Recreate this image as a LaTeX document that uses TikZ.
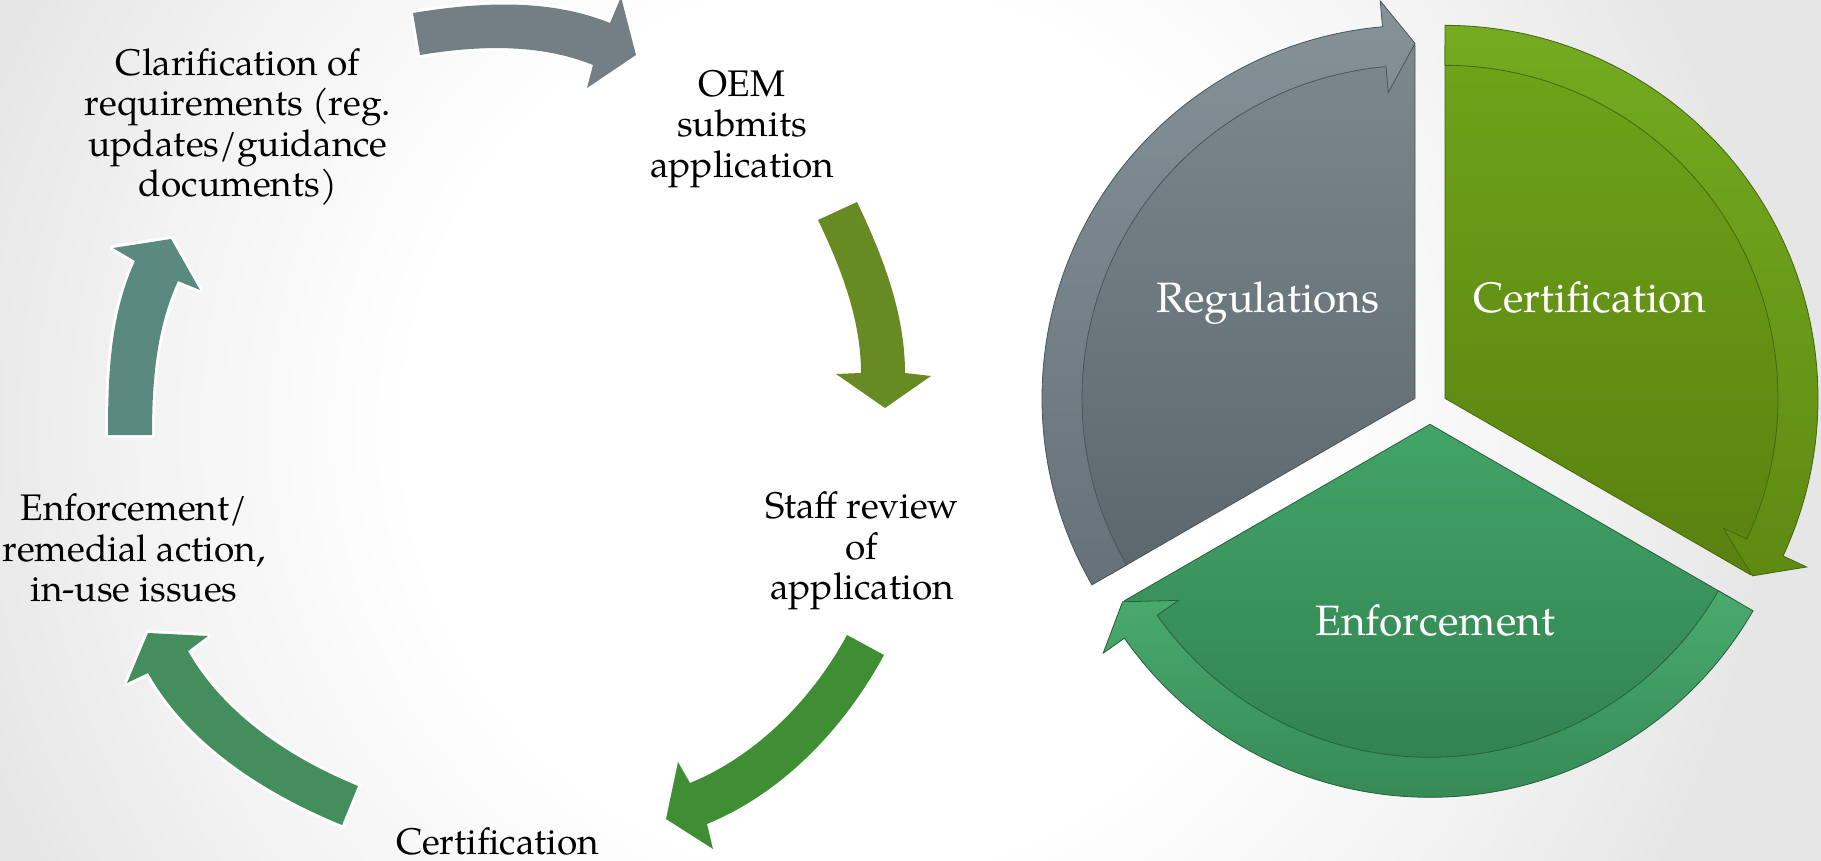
\documentclass[tikz,border=0pt]{standalone}
\usepackage{fontspec}
\setmainfont{TeX Gyre Pagella}

% page background
\definecolor{bgmid}{HTML}{F3F3F3}
\definecolor{bgedge}{HTML}{E6E6E6}
% left cycle arrows
\definecolor{arrA}{HTML}{737F84}
\definecolor{arrB}{HTML}{678B22}
\definecolor{arrC}{HTML}{3F8E33}
\definecolor{arrD}{HTML}{448E5D}
\definecolor{arrE}{HTML}{5A8A7F}
% segmented cycle
\definecolor{regTop}{HTML}{7B888E}
\definecolor{regBot}{HTML}{5B676D}
\definecolor{regBandTop}{HTML}{859298}
\definecolor{regBandBot}{HTML}{65727A}
\definecolor{regLine}{HTML}{4A5459}
\definecolor{cerTop}{HTML}{6EA41A}
\definecolor{cerBot}{HTML}{59810F}
\definecolor{cerBandTop}{HTML}{74AB20}
\definecolor{cerBandBot}{HTML}{5E8A12}
\definecolor{cerLine}{HTML}{46660B}
\definecolor{enfTop}{HTML}{42A467}
\definecolor{enfBot}{HTML}{2E7C4C}
\definecolor{enfBandTop}{HTML}{4AAB6D}
\definecolor{enfBandBot}{HTML}{368A56}
\definecolor{enfLine}{HTML}{255F3B}

\pgfdeclareradialshading{pagebg}{\pgfpoint{0bp}{0bp}}{color(0bp)=(white); color(10bp)=(white); color(16bp)=(bgmid); color(21bp)=(bgedge); color(50bp)=(bgedge)}

\begin{document}
\begin{tikzpicture}[x=1pt,y=-1pt,
  cyctext/.style={align=center, inner sep=0pt, text=black,
    font=\fontsize{37}{40.5}\selectfont},
  segtext/.style={anchor=base, inner sep=0pt, text=white,
    font=\fontsize{42.5}{48}\selectfont},
  cycarrow/.style={preaction={draw=white, line width=6pt, line join=round}},
  lo/.style={looseness=0.86},
  regbody/.style={top color=regTop, bottom color=regBot, draw=regLine, line width=0.8pt},
  regband/.style={top color=regBandTop, bottom color=regBandBot, draw=regLine, line width=0.8pt},
  cerbody/.style={top color=cerTop, bottom color=cerBot, draw=cerLine, line width=0.8pt},
  cerband/.style={top color=cerBandTop, bottom color=cerBandBot, draw=cerLine, line width=0.8pt},
  enfbody/.style={top color=enfTop, bottom color=enfBot, draw=enfLine, line width=0.8pt},
  enfband/.style={top color=enfBandTop, bottom color=enfBandBot, draw=enfLine, line width=0.8pt},
]
\useasboundingbox (0,0) rectangle (1821,861);
\clip (0,0) rectangle (1821,861);
\shade[shading=pagebg] (850,430) circle[radius=1100];

% ---------- text cycle (left) ----------
\node[cyctext] (clar) at (238,127) {Clarification of\\requirements (reg.\\updates/guidance\\documents)};
\node[cyctext] (oem) at (742,129) {OEM\\submits\\application};
\node[cyctext] (staff) at (862,551) {Staff review\\of\\application};
\node[cyctext, anchor=base] (cert) at (497.5,854) {Certification};
\node[cyctext] (enf) at (134,548) {Enforcement/\\remedial action,\\in-use issues};

% curved block arrows between the stages (out/in angles are screen angles)
\path[cycarrow, fill=arrA] (413,13) to[lo, out=9.4, in=158] (610,23) -- (621,-3) -- (636,55)
  -- (587,88) -- (593,65) to[lo, out=158, in=9.4] (420,55) -- cycle;
\path[cycarrow, fill=arrB] (857,202) to[lo, out=-64.4, in=90] (905,373) -- (931,376) -- (885,408)
  -- (836,374) -- (861,373) to[lo, out=90, in=-64.4] (818,220) -- cycle;
\path[cycarrow, fill=arrC] (884,655) to[lo, out=-118.4, in=22.3] (707,824) -- (713,849) -- (666,819)
  -- (678,762) -- (690,783) to[lo, out=22.3, in=-118.4] (847,635) -- cycle;
\path[cycarrow, fill=arrD] (342,825) to[lo, out=157.7, in=-60.5] (148,673) -- (127,683) -- (148,633)
  -- (208,636) -- (188,651) to[lo, out=-60.5, in=157.7] (358,786) -- cycle;
\path[cycarrow, fill=arrE] (108,435) to[lo, out=90, in=-114.8] (135,261) -- (113,248) -- (171,239)
  -- (200,290) -- (178,281) to[lo, out=-114.8, in=90] (152,435) -- cycle;

% ---------- segmented cycle (right) ----------
% Regulations
\begin{scope}[shift={(1415,398.35)}]
  \path[regbody] (0,0) -- (150:353) arc[start angle=150, end angle=270, radius=353] -- cycle;
  \path[regband] (150:373) arc[start angle=150, end angle=265, radius=373] -- (265:399) -- (270:355)
    -- (265:307) -- (265:333) arc[start angle=265, end angle=150, radius=333] -- cycle;
\end{scope}
% Certification
\begin{scope}[shift={(1445,398.35)}]
  \path[cerbody] (0,0) -- (-90:353) arc[start angle=-90, end angle=30, radius=353] -- cycle;
  \path[cerband] (-90:373) arc[start angle=-90, end angle=25, radius=373] -- (25:399) -- (30:355)
    -- (25:307) -- (25:333) arc[start angle=25, end angle=-90, radius=333] -- cycle;
\end{scope}
% Enforcement
\begin{scope}[shift={(1430,424.3)}]
  \path[enfbody] (0,0) -- (30:353) arc[start angle=30, end angle=150, radius=353] -- cycle;
  \path[enfband] (30:373) arc[start angle=30, end angle=145, radius=373] -- (145:399) -- (150:355)
    -- (145:307) -- (145:333) arc[start angle=145, end angle=30, radius=333] -- cycle;
\end{scope}

\node[segtext] (segreg) at (1268,312) {Regulations};
\node[segtext] (segcer) at (1590,312) {Certification};
\node[segtext] (segenf) at (1435,635) {Enforcement};
\end{tikzpicture}
\end{document}
